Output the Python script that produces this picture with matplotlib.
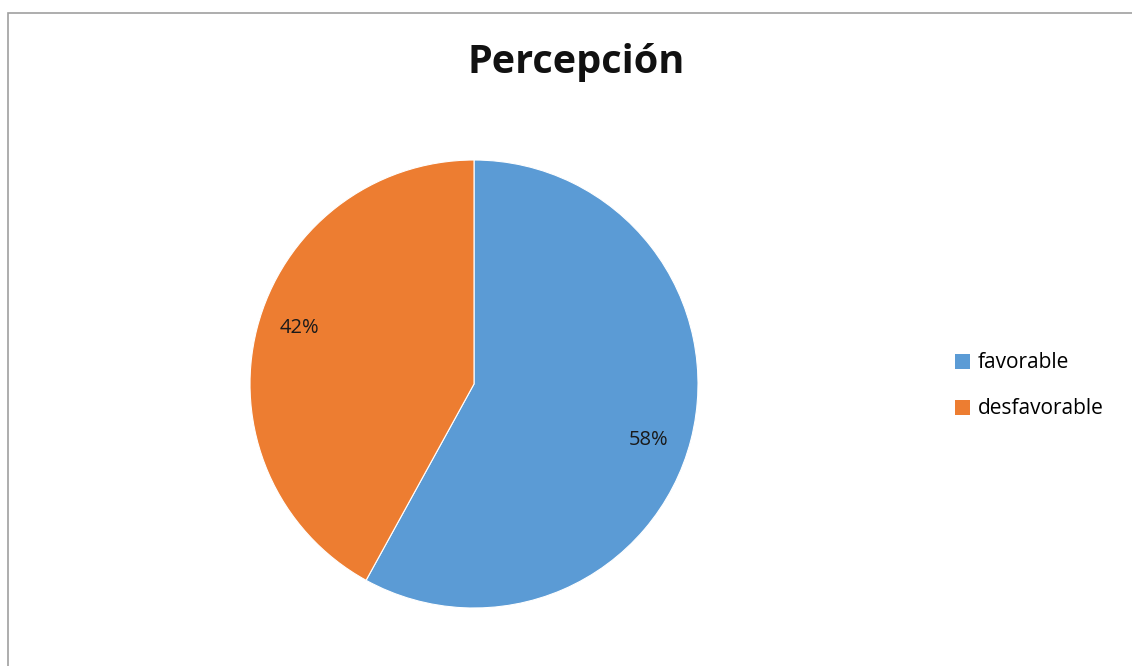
import matplotlib
matplotlib.use('Agg')
import numpy as np
import matplotlib.pyplot as plt
from matplotlib.patches import Rectangle, Patch

# data
labels = ['favorable', 'desfavorable']
values = [58, 42]
colors = ['#5B9BD5', '#ED7D31']

plt.rcParams['font.family'] = ['Open Sans', 'DejaVu Sans']

W, H = 1132, 666
fig = plt.figure(figsize=(W / 100, H / 100), dpi=100)

# chart area border (only top/left visible in the reference)
fig.patches.append(Rectangle((7.5 / W, -0.1), 1.2, (H - 12.5) / H + 0.1,
                             transform=fig.transFigure, fill=False,
                             edgecolor='#a0a0a0', linewidth=1.2))

cx, cy, r = 474, 384, 224
ax = fig.add_axes([(cx - r) / W, (H - cy - r) / H, 2 * r / W, 2 * r / H])
wedges, texts, autotexts = ax.pie(values, colors=colors, startangle=90,
                                  counterclock=False, autopct='%1.0f%%',
                                  pctdistance=0.82,
                                  wedgeprops=dict(edgecolor='white', linewidth=0.8),
                                  textprops=dict(fontsize=14.5, color='#1a1a1a'))
# nudge the percentage labels slightly clockwise, like Excel's best fit
for w, t in zip(wedges, autotexts):
    ang = np.deg2rad((w.theta1 + w.theta2) / 2 - 3.5)
    t.set_position((0.82 * np.cos(ang), 0.82 * np.sin(ang)))
ax.set_xlim(-1, 1)
ax.set_ylim(-1, 1)
ax.set_aspect('equal')

fig.text(576 / W, 1 - 63 / H, 'Percepción', ha='center', va='center',
         fontsize=28.5, fontweight='bold', color='#111111')

handles = [Patch(facecolor=c, edgecolor='none') for c in colors]
fig.legend(handles, labels, loc='center left', bbox_to_anchor=(936 / W, 1 - 386 / H),
           frameon=False, fontsize=15, handlelength=0.75, handleheight=0.75,
           handletextpad=0.35, labelspacing=1.2)

fig.savefig('out.png', dpi=100)
